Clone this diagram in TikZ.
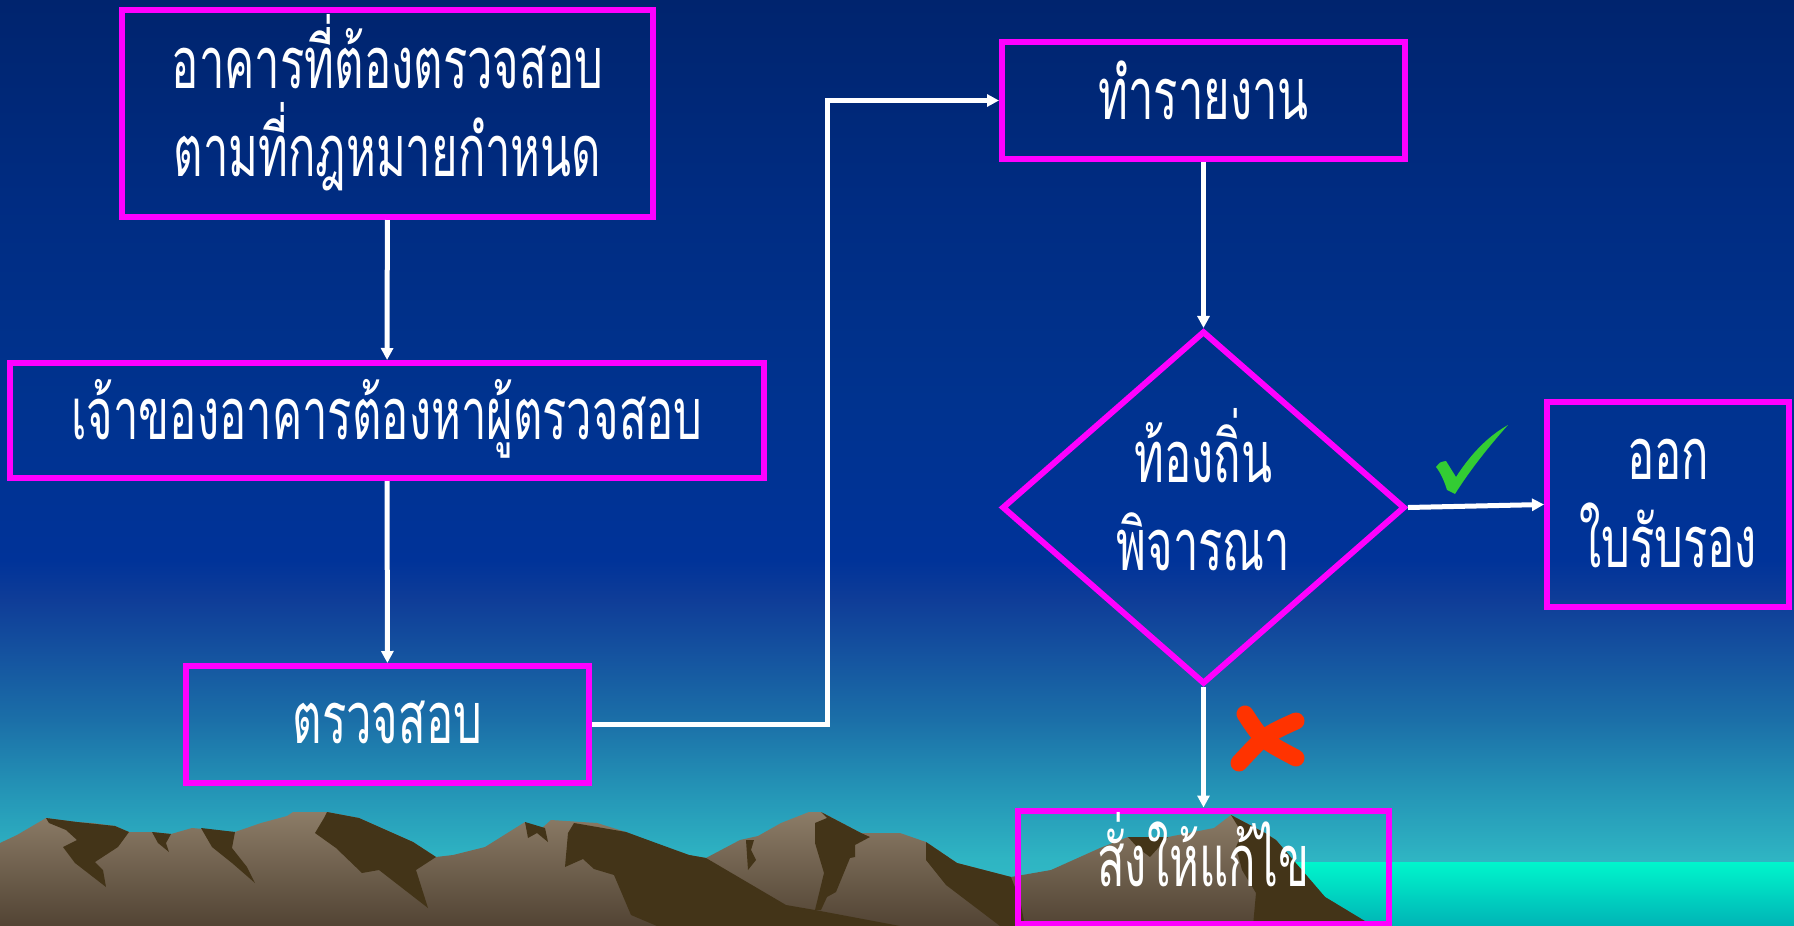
\documentclass[tikz,border=0pt]{standalone}
\usepackage{fontspec}
\newfontfamily\thaifont[Script=Thai,FakeStretch=0.63]{Loma}
\usetikzlibrary{arrows.meta,shapes.geometric}

\definecolor{skyA}{HTML}{33BCC8}
\definecolor{skyB}{HTML}{2FB5C3}
\definecolor{skyC}{HTML}{2494B6}
\definecolor{skyD}{HTML}{1B6FA8}
\definecolor{skyE}{HTML}{14519F}
\definecolor{skyF}{HTML}{0F3D98}
\definecolor{skyG}{HTML}{003399}
\definecolor{skyH}{HTML}{00338F}
\definecolor{skyI}{HTML}{002C82}
\definecolor{skyJ}{HTML}{00246E}
\definecolor{seatop}{HTML}{00F5CC}
\definecolor{seabot}{HTML}{00B4B6}
\definecolor{rocktop}{HTML}{8C7C67}
\definecolor{rockbot}{HTML}{524434}
\definecolor{rockdark}{HTML}{433418}
\definecolor{frame}{HTML}{FF00FF}
\definecolor{okgreen}{HTML}{33CC33}
\definecolor{nored}{HTML}{FF3300}

\pgfdeclareverticalshading{sky}{100bp}{color(0bp)=(skyA); color(25bp)=(skyA);
  color(28.56bp)=(skyB); color(32.34bp)=(skyC); color(36.12bp)=(skyD);
  color(39.9bp)=(skyE); color(42.6bp)=(skyF); color(44.76bp)=(skyG);
  color(53.4bp)=(skyH); color(64.2bp)=(skyI); color(75bp)=(skyJ); color(100bp)=(skyJ)}

\begin{document}
\begin{tikzpicture}[x=0.5pt,y=-0.5pt,
  box/.style={draw=frame,line width=3pt,inner sep=0pt,align=center,text=white,
    font=\thaifont\fontsize{36}{44}\selectfont,text height=26pt,text depth=7pt},
  twolines/.style={text height=70pt},
  decide/.style={box,diamond},
  conn/.style={white,line width=2.5pt,-{Triangle[length=6pt,width=6pt]}}]
\shade[shading=sky] (0,0) rectangle (1794,926);
\useasboundingbox (0,0) rectangle (1794,926);
\shade[top color=seatop,bottom color=seabot] (1260,862) rectangle (1794,926);
\shade[top color=rocktop,bottom color=rockbot] (0,843)--(17,835)--(46,818)--(77,822)--(92,823)--(115,826)--(129,832)--(152,832)--(171,834)--(192,828)--(235,832)--(261,823)--(287,816)--(293,812)--(327,812)--(359,818)--(413,842)--(436,857)--(453,855)--(485,847)--(525,822)--(537,828)--(542,828)--(551,820)--(597,823)--(626,832)--(654,843)--(689,855)--(706,858)--(740,840)--(758,836)--(781,823)--(809,812)--(821,812)--(861,833)--(900,833)--(926,842)--(957,863)--(1011,877)--(1051,870)--(1100,848)--(1128,837)--(1168,837)--(1214,828)--(1231,815)--(1265,833)--(1276,840)--(1325,897)--(1373,926)--(0,926)--cycle;
\fill[rockdark] (46,818)--(77,822)--(115,826)--(129,832)--(118,847)--(95,862)--(103,870)--(106,887)--(75,863)--(63,847)--(77,840)--(66,830)--(49,823)--cycle;
\fill[rockdark] (152,832)--(171,834)--(166,843)--(169,852)--(158,843)--cycle;
\fill[rockdark] (201,828)--(235,832)--(232,848)--(247,867)--(255,883)--(232,863)--(212,847)--cycle;
\fill[rockdark] (327,812)--(359,818)--(413,842)--(436,857)--(416,870)--(428,908)--(379,870)--(362,873)--(336,848)--(315,833)--(324,818)--cycle;
\fill[rockdark] (525,822)--(545,828)--(548,842)--(537,833)--(528,838)--cycle;
\fill[rockdark] (574,823)--(626,832)--(689,855)--(706,858)--(786,905)--(815,910)--(900,926)--(657,926)--(631,915)--(614,875)--(594,869)--(583,859)--(565,867)--(568,833)--cycle;
\fill[rockdark] (746,840)--(754,840)--(751,850)--(756,860)--(748,870)--cycle;
\fill[rockdark] (821,812)--(861,833)--(870,837)--(855,845)--(855,857)--(850,858)--(836,892)--(827,897)--(821,910)--(815,910)--(824,873)--(815,843)--(815,823)--(827,818)--cycle;
\fill[rockdark] (926,842)--(957,863)--(1011,877)--(1020,900)--(1025,926)--(1000,926)--(946,885)--(926,860)--cycle;
\fill[rockdark] (1128,837)--(1168,837)--(1150,857)--(1138,848)--cycle;
\fill[rockdark] (1231,815)--(1265,833)--(1276,840)--(1325,897)--(1373,926)--(1253,926)--(1256,893)--(1242,870)--(1236,847)--(1242,833)--cycle;

\node[box,twolines,minimum width=265.5pt,minimum height=103.5pt] (law) at (387.5,113.5) {อาคารที่ต้องตรวจสอบ\\ตามที่กฎหมายกำหนด};
\node[box,minimum width=377pt,minimum height=57.5pt] (owner) at (387,420.5) {เจ้าของอาคารต้องหาผู้ตรวจสอบ};
\node[box,minimum width=201.5pt,minimum height=58.5pt] (check) at (387.5,724.5) {ตรวจสอบ};
\node[box,minimum width=201.5pt,minimum height=58.5pt] (report) at (1203.5,100.5) {ทำรายงาน};
\node[decide,twolines,minimum width=201.5pt,minimum height=176.5pt] (local) at (1203.5,507.5) {ท้องถิ่น\\พิจารณา};
\node[box,twolines,minimum width=121pt,minimum height=102.5pt] (cert) at (1668,504.5) {ออก\\ใบรับรอง};
\node[box,minimum width=185.5pt,minimum height=56.5pt] (fix) at (1203.5,867) {สั่งให้แก้ไข};
\coordinate (turn) at (827,400);

\draw[conn] (law) -- (owner);
\draw[conn] (owner) -- (check);
\draw[conn] (check.east) -| (turn) |- (report.west);
\draw[conn] (report) -- (local);
\draw[conn] (local.east) -- (cert.west);
\draw[conn] (local.south) -- (fix.north);

\fill[okgreen] (1436,467) .. controls (1440,462) .. (1446,461) -- (1456,477) .. controls (1472,452) and (1490,435) .. (1508,425) .. controls (1490,445) and (1470,470) .. (1455,494) -- (1447,490) .. controls (1444,480) and (1440,472) .. cycle;
\draw[nored,line width=8.5pt,line cap=round] (1245,714) .. controls (1262,740) .. (1296,758) (1296,721) .. controls (1265,735) .. (1239,763);
\end{tikzpicture}
\end{document}
